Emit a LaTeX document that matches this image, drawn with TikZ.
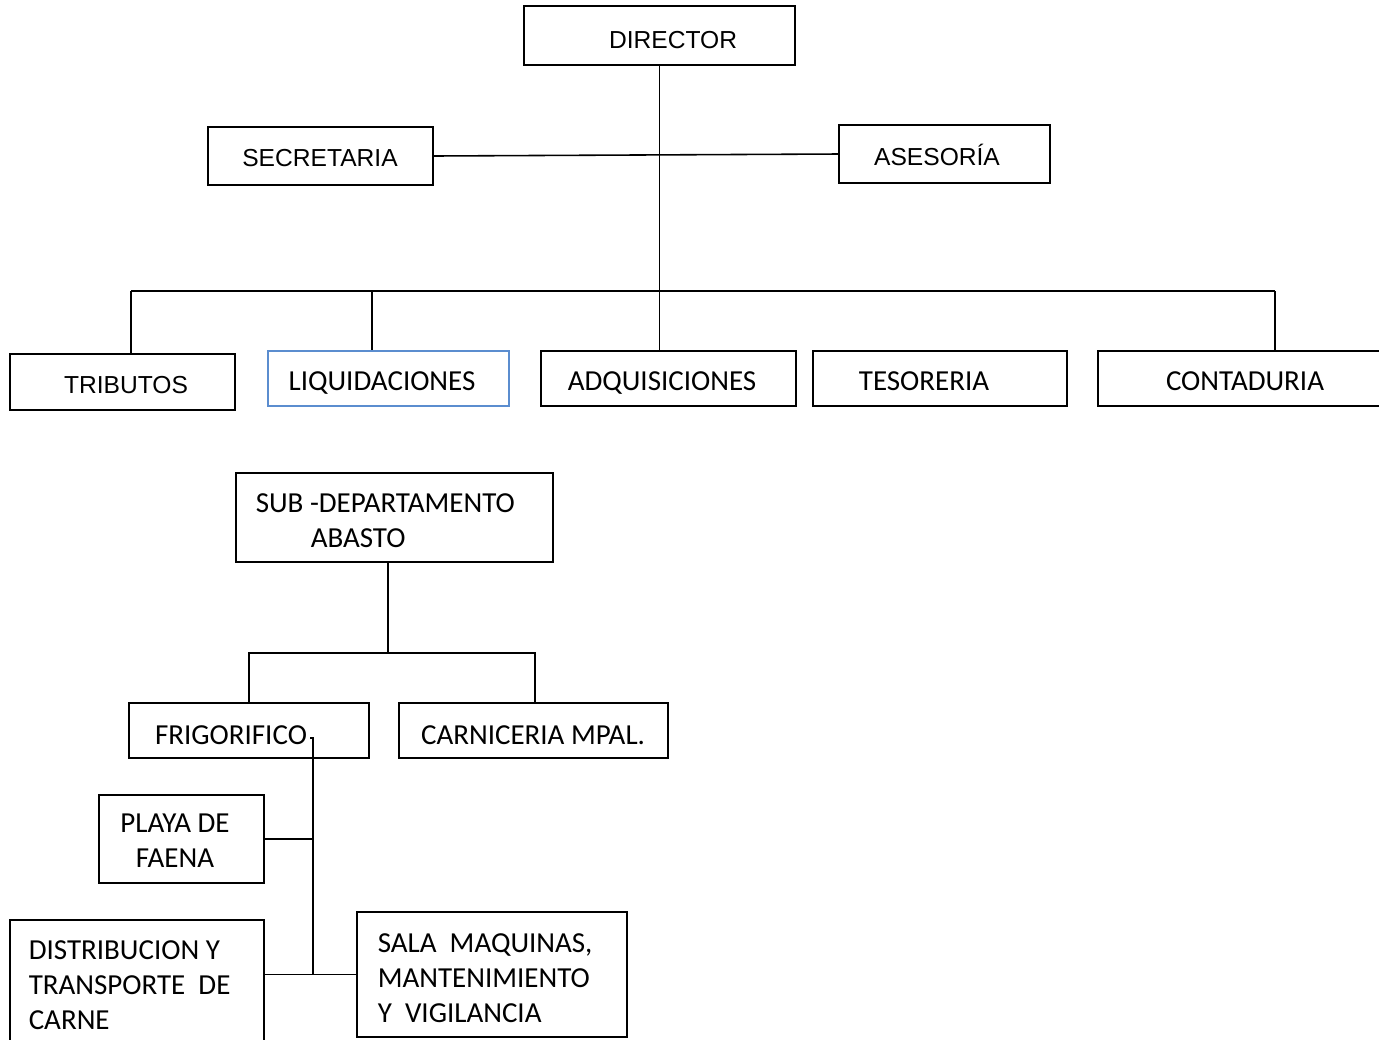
\documentclass[tikz,border=0pt]{standalone}
\usepackage{fontspec}
\setmainfont{Carlito}
\newfontfamily\arialfont{Liberation Sans}
\definecolor{liqblue}{RGB}{91,141,207}
\tikzset{px size/.style 2 args={minimum width=#1*0.02cm, minimum height=#2*0.02cm}}

\begin{document}
\begin{tikzpicture}[x=0.02cm, y=-0.02cm, line width=0.9pt,
  unit/.style={draw, rectangle, inner sep=0pt},
  lbl/.style={inner sep=0pt, font=\fontsize{16.5}{20}\selectfont, text height=10.6pt, text depth=0pt},
  multilbl/.style={inner sep=0pt, font=\fontsize{16.5}{20}\selectfont},
  toplbl/.style={inner sep=0pt, font=\arialfont\fontsize{14}{17}\selectfont, text height=10pt, text depth=0pt}]
	\useasboundingbox (0,0) rectangle (1379,1039);
	\clip (0,0) rectangle (1379,1039);

	% dirección
	\node[unit, px size={271}{59}] (director) at (659.5,35.5) {};
	\node[toplbl] (director-t) at (673,40) {DIRECTOR};
	\node[unit, px size={225}{58}] (secretaria) at (320.5,156) {};
	\node[toplbl] (secretaria-t) at (320,158) {SECRETARIA};
	\node[unit, px size={211}{58}] (asesoria) at (944.5,154) {};
	\node[toplbl] (asesoria-t) at (937,157) {ASESORÍA};

	% departamentos
	\node[unit, px size={225}{56}] (tributos) at (122.5,382) {};
	\node[toplbl] (tributos-t) at (126,385) {TRIBUTOS};
	\node[unit, draw=liqblue, px size={241}{55}] (liquidaciones) at (388.5,378.5) {};
	\node[lbl] (liquidaciones-t) at (382,381) {LIQUIDACIONES};
	\node[unit, px size={255}{55}] (adquisiciones) at (668.5,378.5) {};
	\node[lbl] (adquisiciones-t) at (662,381) {ADQUISICIONES};
	\node[unit, px size={254}{55}] (tesoreria) at (940,378.5) {};
	\node[lbl] (tesoreria-t) at (924,381) {TESORERIA};
	\node[unit, px size={302}{55}] (contaduria) at (1249,378.5) {};
	\node[lbl] (contaduria-t) at (1245,381) {CONTADURIA};

	\coordinate (bus-l) at (131,291);
	\coordinate (bus-liq) at (372,291);
	\coordinate (bus-r) at (1275,291);
	\draw (director.south) -- (director.south |- adquisiciones.north);
	\draw (secretaria.east) -- (asesoria.west);
	\draw (bus-l) -- (bus-r);
	\draw (bus-l) -- (bus-l |- tributos.north);
	\draw (bus-liq) -- (bus-liq |- liquidaciones.north);
	\draw (bus-r) -- (bus-r |- contaduria.north);

	% abasto
	\node[unit, px size={317}{89}] (abasto) at (394.5,517.5) {};
	\node[multilbl, anchor=west, align=left] (abasto-t) at (255,520.5) {SUB -DEPARTAMENTO\\\hspace*{1.1cm}ABASTO};
	\node[unit, px size={240}{55}] (frigorifico) at (249,730.5) {};
	\node[lbl] (frigorifico-t) at (231,735) {FRIGORIFICO};
	\node[unit, px size={269}{55}] (carniceria) at (533.5,730.5) {};
	\node[lbl] (carniceria-t) at (533,735) {CARNICERIA MPAL.};

	\coordinate (ab-mid) at (388,653);
	\coordinate (ab-l) at (249,653);
	\coordinate (ab-r) at (535,653);
	\draw (ab-mid |- abasto.south) -- (ab-mid);
	\draw (ab-l |- frigorifico.north) -- (ab-l) -- (ab-r) -- (ab-r |- carniceria.north);

	% frigorifico
	\node[unit, px size={165}{88}] (playa) at (181.5,839) {};
	\node[multilbl, align=center] (playa-t) at (175,841) {PLAYA DE\\FAENA};
	\node[unit, px size={254}{140}] (distribucion) at (137,990) {};
	\node[multilbl, anchor=west, align=left] (distribucion-t) at (28,985) {DISTRIBUCION Y\\TRANSPORTE~~DE\\CARNE};
	\node[unit, px size={270}{125}] (sala) at (492,974.5) {};
	\node[multilbl, anchor=west, align=left] (sala-t) at (377,978) {SALA~~MAQUINAS,\\MANTENIMIENTO\\Y~~VIGILANCIA};

	\coordinate (frig-stem) at (313,738);
	\draw (310,738) -- (frig-stem) -- (frig-stem |- sala.west);
	\draw (playa.east) -- (playa.east -| frig-stem);
	\draw (distribucion.east |- sala.west) -- (sala.west);
\end{tikzpicture}
\end{document}
